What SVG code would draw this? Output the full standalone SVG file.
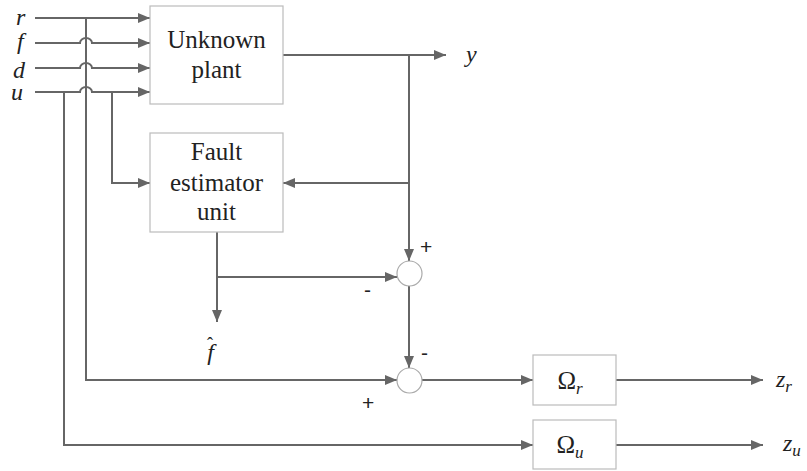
<svg xmlns="http://www.w3.org/2000/svg" width="807" height="471" viewBox="0 0 807 471">
<defs>
<marker id="ah" markerWidth="13" markerHeight="11" refX="12" refY="5" orient="auto" markerUnits="userSpaceOnUse">
<path d="M0,0 L12,5 L0,10 z" fill="#666"/>
</marker>
<style>
.ar{fill:none;stroke:#666;stroke-width:2;marker-end:url(#ah)}
.box{fill:#fff;stroke:#bbb;stroke-width:1.2}
.sum{fill:#fff;stroke:#aaa;stroke-width:1.2}
.bt{font-family:"Liberation Serif","DejaVu Serif",serif;font-size:25px;fill:#222;text-anchor:middle}
.mi{font-family:"Liberation Serif","DejaVu Serif",serif;font-style:italic;font-size:24px;fill:#222}
.sg{font-family:"Liberation Sans",Arial,sans-serif;font-size:21px;fill:#222}
</style>
</defs>
<rect width="807" height="471" fill="#fff"/>
<g id="connectors">
<path class="ar" d="M35,18 H150"/>
<path class="ar" d="M35,43 H80 A6,5 0 0 1 92,43 H150"/>
<path class="ar" d="M35,68 H80 A6,5 0 0 1 92,68 H150"/>
<path class="ar" d="M35,92 H80 A6,5 0 0 1 92,92 H150"/>
<path class="ar" d="M86,18 V380 H397"/>
<path class="ar" d="M64,92 V445 H533"/>
<path class="ar" d="M112,92 V183 H150"/>
<path class="ar" d="M283,55 H446"/>
<path class="ar" d="M409,55 V261"/>
<path class="ar" d="M409,183 H283"/>
<path class="ar" d="M217,232 V322"/>
<path class="ar" d="M217,277 H397"/>
<path class="ar" d="M409,286 V368"/>
<path class="ar" d="M422,380 H533"/>
<path class="ar" d="M616,380 H763"/>
<path class="ar" d="M616,445 H763"/>
</g>
<g id="plant">
<rect class="box" x="150" y="6" width="133" height="98"/>
<text class="bt" x="216.5" y="48">Unknown</text>
<text class="bt" x="216.5" y="78">plant</text>
</g>
<g id="fault-estimator">
<rect class="box" x="150" y="133" width="133" height="99"/>
<text class="bt" x="216.5" y="160">Fault</text>
<text class="bt" x="216.5" y="191">estimator</text>
<text class="bt" x="216.5" y="220">unit</text>
</g>
<g id="sum1">
<circle class="sum" cx="409.5" cy="273.5" r="12.5"/>
<text class="sg" x="420" y="254">+</text>
<text class="sg" x="364" y="297">-</text>
</g>
<g id="sum2">
<circle class="sum" cx="409.5" cy="380.5" r="12.5"/>
<text class="sg" x="421" y="360">-</text>
<text class="sg" x="362" y="410">+</text>
</g>
<g id="omega-r">
<rect class="box" x="533" y="355" width="83" height="50"/>
<text class="bt" x="570" y="389">Ω<tspan font-style="italic" font-size="17" dy="5">r</tspan></text>
</g>
<g id="omega-u">
<rect class="box" x="533" y="420" width="83" height="49"/>
<text class="bt" x="570" y="453">Ω<tspan font-style="italic" font-size="17" dy="5">u</tspan></text>
</g>
<g id="labels">
<text class="mi" x="16" y="25">r</text>
<text class="mi" x="17" y="49">f</text>
<text class="mi" x="13" y="78">d</text>
<text class="mi" x="11" y="100">u</text>
<text class="mi" x="466" y="62">y</text>
<text class="mi" x="207" y="360">f<tspan font-style="normal" font-size="18" dx="-7" dy="-10">ˆ</tspan></text>
<text class="mi" x="776" y="387">z<tspan font-size="17" dy="5">r</tspan></text>
<text class="mi" x="783" y="451">z<tspan font-size="17" dy="5">u</tspan></text>
</g>
</svg>
